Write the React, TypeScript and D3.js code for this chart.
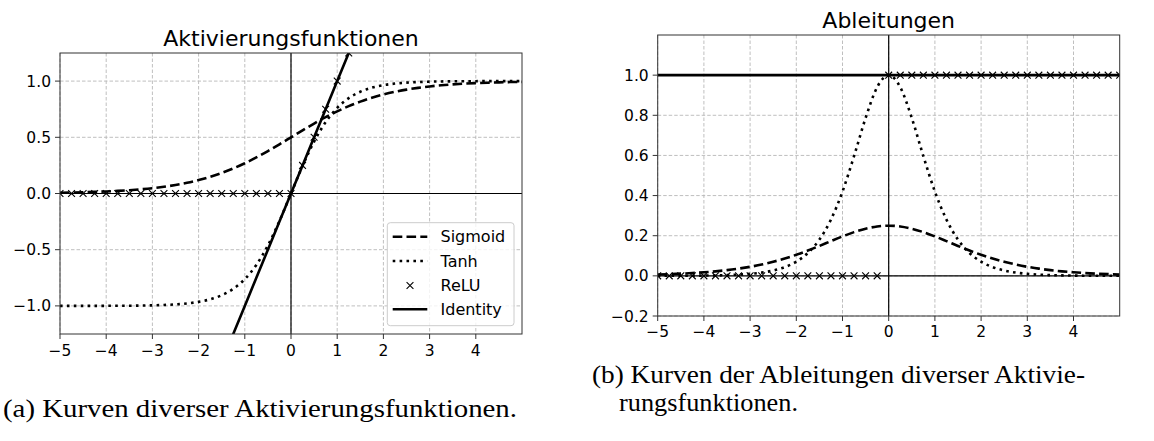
import React from 'react';
import * as d3 from 'd3';

const xs = [-5, -4.75, -4.5, -4.25, -4, -3.75, -3.5, -3.25, -3, -2.75, -2.5, -2.25, -2, -1.75, -1.5, -1.25, -1, -0.75, -0.5, -0.25, 0, 0.25, 0.5, 0.75, 1, 1.25, 1.5, 1.75, 2, 2.25, 2.5, 2.75, 3, 3.25, 3.5, 3.75, 4, 4.25, 4.5, 4.75, 5];

const sigmoid = [0.0067, 0.0086, 0.0110, 0.0141, 0.0180, 0.0230, 0.0293, 0.0373, 0.0474, 0.0601, 0.0759, 0.0954, 0.1192, 0.1480, 0.1824, 0.2227, 0.2689, 0.3208, 0.3775, 0.4378, 0.5, 0.5622, 0.6225, 0.6792, 0.7311, 0.7773, 0.8176, 0.8520, 0.8808, 0.9046, 0.9241, 0.9399, 0.9526, 0.9627, 0.9707, 0.9770, 0.9820, 0.9859, 0.9890, 0.9914, 0.9933];

const tanh = [-0.9999, -0.9999, -0.9998, -0.9996, -0.9993, -0.9989, -0.9982, -0.9970, -0.9951, -0.9919, -0.9866, -0.9780, -0.9640, -0.9414, -0.9052, -0.8483, -0.7616, -0.6352, -0.4621, -0.2449, 0, 0.2449, 0.4621, 0.6352, 0.7616, 0.8483, 0.9052, 0.9414, 0.9640, 0.9780, 0.9866, 0.9919, 0.9951, 0.9970, 0.9982, 0.9989, 0.9993, 0.9996, 0.9998, 0.9999, 0.9999];

const relu = [0, 0, 0, 0, 0, 0, 0, 0, 0, 0, 0, 0, 0, 0, 0, 0, 0, 0, 0, 0, 0, 0.25, 0.5, 0.75, 1, 1.25, 1.5, 1.75, 2, 2.25, 2.5, 2.75, 3, 3.25, 3.5, 3.75, 4, 4.25, 4.5, 4.75, 5];

const identity = [-5, -4.75, -4.5, -4.25, -4, -3.75, -3.5, -3.25, -3, -2.75, -2.5, -2.25, -2, -1.75, -1.5, -1.25, -1, -0.75, -0.5, -0.25, 0, 0.25, 0.5, 0.75, 1, 1.25, 1.5, 1.75, 2, 2.25, 2.5, 2.75, 3, 3.25, 3.5, 3.75, 4, 4.25, 4.5, 4.75, 5];

const sigmoidDeriv = [0.0066, 0.0085, 0.0109, 0.0139, 0.0177, 0.0225, 0.0285, 0.0359, 0.0452, 0.0565, 0.0701, 0.0863, 0.1050, 0.1261, 0.1491, 0.1731, 0.1966, 0.2179, 0.2350, 0.2461, 0.25, 0.2461, 0.2350, 0.2179, 0.1966, 0.1731, 0.1491, 0.1261, 0.1050, 0.0863, 0.0701, 0.0565, 0.0452, 0.0359, 0.0285, 0.0225, 0.0177, 0.0139, 0.0109, 0.0085, 0.0066];

const tanhDeriv = [0.0002, 0.0003, 0.0005, 0.0008, 0.0013, 0.0022, 0.0036, 0.0060, 0.0099, 0.0162, 0.0266, 0.0435, 0.0707, 0.1138, 0.1807, 0.2804, 0.4200, 0.5966, 0.7864, 0.9400, 1, 0.9400, 0.7864, 0.5966, 0.4200, 0.2804, 0.1807, 0.1138, 0.0707, 0.0435, 0.0266, 0.0162, 0.0099, 0.0060, 0.0036, 0.0022, 0.0013, 0.0008, 0.0005, 0.0003, 0.0002];

const reluDeriv = [0, 0, 0, 0, 0, 0, 0, 0, 0, 0, 0, 0, 0, 0, 0, 0, 0, 0, 0, 0, 1, 1, 1, 1, 1, 1, 1, 1, 1, 1, 1, 1, 1, 1, 1, 1, 1, 1, 1, 1, 1];

const identityDeriv = [1, 1, 1, 1, 1, 1, 1, 1, 1, 1, 1, 1, 1, 1, 1, 1, 1, 1, 1, 1, 1, 1, 1, 1, 1, 1, 1, 1, 1, 1, 1, 1, 1, 1, 1, 1, 1, 1, 1, 1, 1];

const xTicks = [-5, -4, -3, -2, -1, 0, 1, 2, 3, 4];
const xTickLabels = ['−5', '−4', '−3', '−2', '−1', '0', '1', '2', '3', '4'];
const yTicksA = [-1, -0.5, 0, 0.5, 1];
const yTickLabelsA = ['−1.0', '−0.5', '0.0', '0.5', '1.0'];
const yTicksB = [-0.2, 0, 0.2, 0.4, 0.6, 0.8, 1.0];
const yTickLabelsB = ['−0.2', '0.0', '0.2', '0.4', '0.6', '0.8', '1.0'];
const legendLabels = ['Sigmoid', 'Tanh', 'ReLU', 'Identity'];
const legendKinds = ['dash', 'dot', 'x', 'solid'];

const titleA = 'Aktivierungsfunktionen';
const titleB = 'Ableitungen';
const captionA = '(a) Kurven diverser Aktivierungsfunktionen.';
const captionB1 = '(b) Kurven der Ableitungen diverser Aktivie-';
const captionB2 = 'rungsfunktionen.';

const SANS = "'DejaVu Sans', sans-serif";
const SERIF = "'Liberation Serif', 'DejaVu Serif', serif";
const LW = 2.6;
const DASH = '9.6,4.2';
const DOT = '2.6,4.3';
const XMARK = 'M-3.4,-3.4L3.4,3.4M-3.4,3.4L3.4,-3.4';

type Series = { values: number[]; kind: string };

function Axes(props: {
  id: string; left: number; right: number; top: number; bottom: number;
  yDomain: [number, number]; yTicks: number[]; yTickLabels: string[];
  title: string; titleY: number; xLabelY: number; series: Series[];
}) {
  const { id, left, right, top, bottom, yDomain, yTicks, yTickLabels, title, titleY, xLabelY, series } = props;
  const x = d3.scaleLinear().domain([-5, 5]).range([left, right]);
  const y = d3.scaleLinear().domain(yDomain).range([bottom, top]);
  const line = d3.line<number>().x((_, i) => x(xs[i])).y((v) => y(v)).curve(d3.curveMonotoneX);
  const straight = d3.line<number>().x((_, i) => x(xs[i])).y((v) => y(v));
  return (
    <g>
      <defs>
        <clipPath id={id}>
          <rect x={left} y={top} width={right - left} height={bottom - top} />
        </clipPath>
      </defs>
      <rect x={left} y={top} width={right - left} height={bottom - top} fill="#fff" />
      {xTicks.map((t) => (
        <line key={'gx' + t} x1={x(t)} x2={x(t)} y1={top} y2={bottom} stroke="#b8b8b8" strokeWidth={0.9} strokeDasharray="3.5,2" />
      ))}
      {yTicks.map((t) => (
        <line key={'gy' + t} x1={left} x2={right} y1={y(t)} y2={y(t)} stroke="#b8b8b8" strokeWidth={0.9} strokeDasharray="3.5,2" />
      ))}
      <g clipPath={`url(#${id})`}>
        <line x1={left} x2={right} y1={y(0)} y2={y(0)} stroke="#000" strokeWidth={1.2} />
        <line x1={x(0)} x2={x(0)} y1={top} y2={bottom} stroke="#000" strokeWidth={1.2} />
        {series.map((s, si) => {
          if (s.kind === 'x') {
            return (
              <g key={si}>
                {s.values.map((v, i) => (
                  <path key={i} d={XMARK} transform={`translate(${x(xs[i])},${y(v)})`} stroke="#000" strokeWidth={1.1} fill="none" />
                ))}
              </g>
            );
          }
          const d = s.kind === 'solid' ? straight(s.values) : line(s.values);
          return (
            <path key={si} d={d || ''} fill="none" stroke="#000" strokeWidth={LW}
              strokeDasharray={s.kind === 'dash' ? DASH : s.kind === 'dot' ? DOT : undefined} />
          );
        })}
      </g>
      <rect x={left} y={top} width={right - left} height={bottom - top} fill="none" stroke="#333" strokeWidth={1} />
      {xTicks.map((t, i) => (
        <g key={'tx' + t}>
          <line x1={x(t)} x2={x(t)} y1={bottom} y2={bottom + 5} stroke="#333" strokeWidth={1} />
          <text x={x(t)} y={xLabelY} textAnchor="middle" fontFamily={SANS} fontSize={15.5} fill="#000">{xTickLabels[i]}</text>
        </g>
      ))}
      {yTicks.map((t, i) => (
        <g key={'ty' + t}>
          <line x1={left - 5} x2={left} y1={y(t)} y2={y(t)} stroke="#333" strokeWidth={1} />
          <text x={left - 9} y={y(t)} dy="0.36em" textAnchor="end" fontFamily={SANS} fontSize={15.5} fill="#000">{yTickLabels[i]}</text>
        </g>
      ))}
      <text x={(left + right) / 2} y={titleY} textAnchor="middle" fontFamily={SANS} fontSize={22} fill="#000">{title}</text>
    </g>
  );
}

export default function App() {
  const legX = 387.3, legY = 222.7, legW = 126.7, legH = 103;
  const rowYs = [236.7, 261, 285.5, 309.3];
  return (
    <svg width={1154} height={441} viewBox="0 0 1154 441" style={{ position: 'absolute', left: 0, top: 0, background: '#fff' }}>
      <rect x={0} y={0} width={1154} height={441} fill="#fff" />
      <Axes id="clipA" left={60} right={522} top={53} bottom={334} yDomain={[-1.25, 1.25]}
        yTicks={yTicksA} yTickLabels={yTickLabelsA} title={titleA} titleY={45.5} xLabelY={356}
        series={[
          { values: sigmoid, kind: 'dash' },
          { values: tanh, kind: 'dot' },
          { values: relu, kind: 'x' },
          { values: identity, kind: 'solid' },
        ]} />
      <g>
        <rect x={legX} y={legY} width={legW} height={legH} rx={3} fill="#fff" fillOpacity={0.8} stroke="#cccccc" strokeWidth={1} />
        {legendLabels.map((lab, i) => {
          const k = legendKinds[i];
          const cy = rowYs[i];
          return (
            <g key={lab}>
              {k === 'x' ? (
                <path d={XMARK} transform={`translate(410,${cy})`} stroke="#000" strokeWidth={1.1} fill="none" />
              ) : (
                <line x1={392.7} x2={427.3} y1={cy} y2={cy} stroke="#000" strokeWidth={LW}
                  strokeDasharray={k === 'dash' ? DASH : k === 'dot' ? DOT : undefined} />
              )}
              <text x={440.5} y={cy} dy="0.36em" fontFamily={SANS} fontSize={16} fill="#000">{lab}</text>
            </g>
          );
        })}
      </g>
      <Axes id="clipB" left={657.7} right={1119.7} top={35} bottom={316} yDomain={[-0.2, 1.2]}
        yTicks={yTicksB} yTickLabels={yTickLabelsB} title={titleB} titleY={28} xLabelY={337}
        series={[
          { values: sigmoidDeriv, kind: 'dash' },
          { values: tanhDeriv, kind: 'dot' },
          { values: reluDeriv, kind: 'x' },
          { values: identityDeriv, kind: 'solid' },
        ]} />
      <text x={3} y={417} fontFamily={SERIF} fontSize={24.5} textLength={514} lengthAdjust="spacingAndGlyphs" fill="#000">{captionA}</text>
      <text x={592} y={383} fontFamily={SERIF} fontSize={24.5} textLength={493} lengthAdjust="spacingAndGlyphs" fill="#000">{captionB1}</text>
      <text x={619} y={411} fontFamily={SERIF} fontSize={24.5} textLength={179} lengthAdjust="spacingAndGlyphs" fill="#000">{captionB2}</text>
    </svg>
  );
}
